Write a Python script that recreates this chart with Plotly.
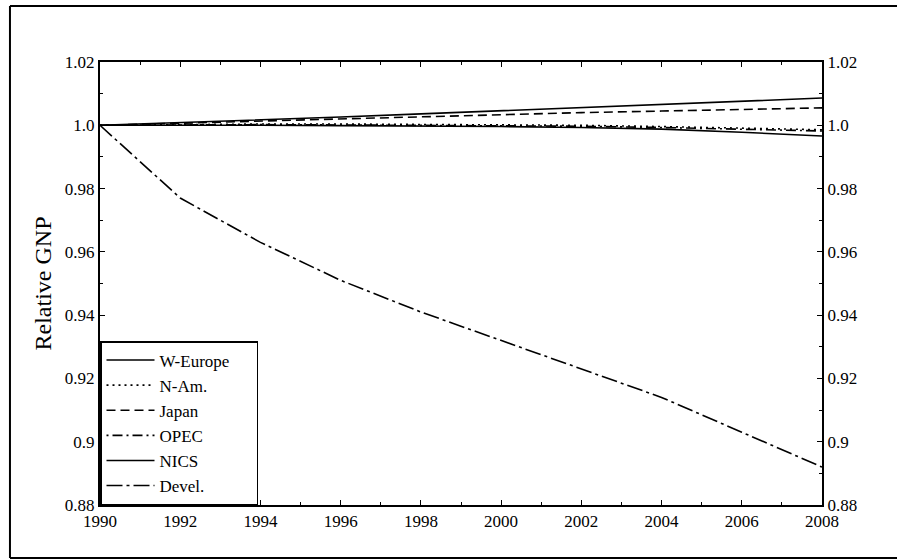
import plotly.graph_objects as go

years = [1990, 1992, 1994, 1996, 1998, 2000, 2002, 2004, 2006, 2008]
w_europe = [1.0, 1.0008, 1.0017, 1.0026, 1.0036, 1.0046, 1.0056, 1.0066, 1.0076, 1.0086]
n_am = [1.0, 1.0003, 1.0004, 1.0004, 1.0003, 1.0002, 1.0, 0.9996, 0.9991, 0.9986]
japan = [1.0, 1.0007, 1.0014, 1.0021, 1.0028, 1.0034, 1.004, 1.0045, 1.005, 1.0055]
opec = [1.0, 1.0002, 1.0002, 1.0001, 1.0, 0.9999, 0.9997, 0.9993, 0.9988, 0.9982]
nics = [1.0, 1.0001, 1.0, 0.9999, 0.9998, 0.9996, 0.9993, 0.9988, 0.9978, 0.9966]
devel = [1.0, 0.977, 0.963, 0.951, 0.941, 0.932, 0.923, 0.914, 0.903, 0.892]

series_names = ["W-Europe", "N-Am.", "Japan", "OPEC", "NICS", "Devel."]
series_values = [w_europe, n_am, japan, opec, nics, devel]
series_dash = ["solid", "2px,4px", "9px,5px", "2px,4px,10px,4px", "solid", "16px,4px,3px,4px"]

x_tick_vals = [1990, 1992, 1994, 1996, 1998, 2000, 2002, 2004, 2006, 2008]
x_tick_text = ["1990", "1992", "1994", "1996", "1998", "2000", "2002", "2004", "2006", "2008"]
y_tick_vals = [0.88, 0.90, 0.92, 0.94, 0.96, 0.98, 1.00, 1.02]
y_tick_text = ["0.88", "0.9", "0.92", "0.94", "0.96", "0.98", "1.0", "1.02"]

FONT = "Liberation Serif"
PAD = "\u00a0" * 5  # widens the legend box to match the reference

fig = go.Figure()
for i, (name, vals, dash) in enumerate(zip(series_names, series_values, series_dash)):
    fig.add_trace(go.Scatter(
        x=years, y=vals, name=name + (PAD if i == 0 else ""), mode="lines",
        line=dict(color="black", width=1.6, dash=dash),
    ))

# invisible trace to carry the right-hand axis
fig.add_trace(go.Scatter(
    x=years, y=w_europe, yaxis="y2", mode="lines", showlegend=False,
    hoverinfo="skip", line=dict(color="rgba(0,0,0,0)", width=0),
))

yrange = [0.88, 1.02]
axis_common = dict(
    showgrid=False, zeroline=False, showline=True, linecolor="black", linewidth=2,
    ticks="inside", ticklen=5, tickwidth=1.2, tickcolor="black",
    tickfont=dict(family=FONT, size=17, color="black"),
)

fig.update_layout(
    width=897, height=560,
    margin=dict(l=100, r=75, t=62, b=55),
    paper_bgcolor="white", plot_bgcolor="white",
    font=dict(family=FONT, color="black"),
    xaxis=dict(
        range=[1990, 2008], tickvals=x_tick_vals, ticktext=x_tick_text,
        mirror="ticks",
        minor=dict(dtick=1, ticks="inside", ticklen=3, tickcolor="black", showgrid=False),
        **axis_common,
    ),
    yaxis=dict(
        range=yrange, tickvals=y_tick_vals, ticktext=y_tick_text,
        mirror="ticks",
        minor=dict(dtick=0.01, tick0=0.88, ticks="inside", ticklen=3, tickcolor="black", showgrid=False),
        title=dict(text="Relative GNP", font=dict(family=FONT, size=24, color="black"), standoff=6),
        **axis_common,
    ),
    yaxis2=dict(
        range=yrange, tickvals=y_tick_vals, ticktext=y_tick_text,
        overlaying="y", side="right",
        **axis_common,
    ),
    legend=dict(
        x=0, y=0, xanchor="left", yanchor="bottom",
        bordercolor="black", borderwidth=1.5, bgcolor="white",
        font=dict(family=FONT, size=17, color="black"),
        itemwidth=48, tracegroupgap=0,
    ),
    showlegend=True,
)

# outer frame (top, left, bottom edges; right edge lies outside the picture)
frame_left, frame_right, frame_bottom, frame_top = -0.1247, 1.2, -0.1196, 1.1264
for x0, y0, x1, y1 in [
    (frame_left, frame_top, frame_right, frame_top),
    (frame_left, frame_bottom, frame_right, frame_bottom),
    (frame_left, frame_bottom, frame_left, frame_top),
]:
    fig.add_shape(type="line", xref="paper", yref="paper", x0=x0, y0=y0, x1=x1, y1=y1,
                  line=dict(color="black", width=2), layer="below")

fig.write_html(
    "out.html", config={"displayModeBar": False},
    post_script="document.body.style.margin='0';document.body.style.overflow='hidden';"
                "document.documentElement.style.overflow='hidden';",
)
